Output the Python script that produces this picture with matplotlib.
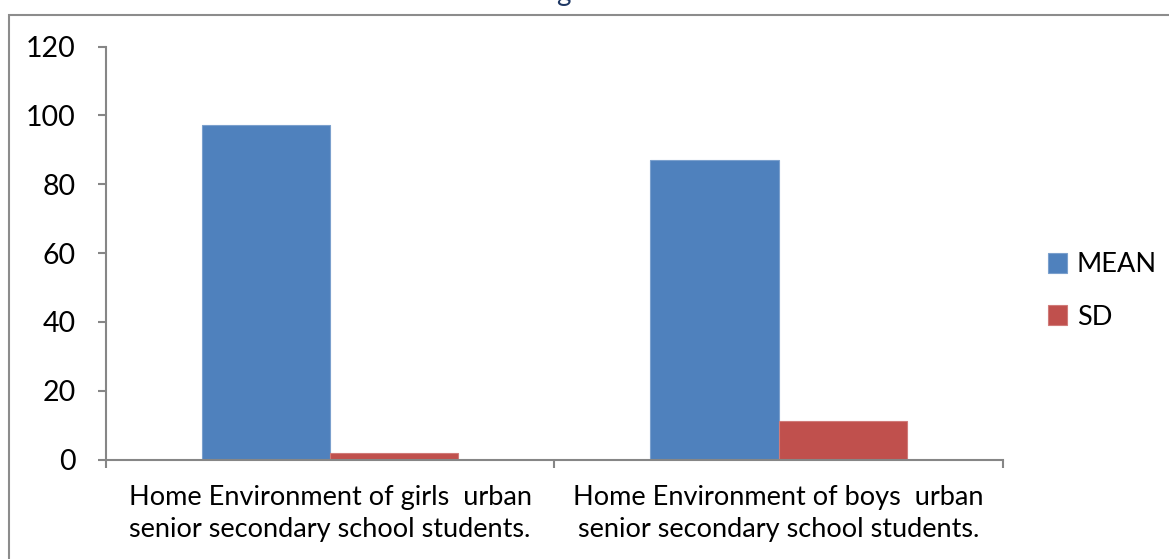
import matplotlib.pyplot as plt
import numpy as np
from matplotlib.patches import Rectangle

categories = [
    "Home Environment of girls  urban\nsenior secondary school students.",
    "Home Environment of boys  urban\nsenior secondary school students.",
]
series_names = ["MEAN", "SD"]
mean_values = [97.2, 86.9]
sd_values = [1.8, 11.3]
y_ticks = [0, 20, 40, 60, 80, 100, 120]

plt.rcParams["font.family"] = ["Lato", "DejaVu Sans"]

fig = plt.figure(figsize=(11.69, 5.59), dpi=100)
ax = fig.add_axes([105.7 / 1169, 1 - 459.5 / 559, (1003 - 105.7) / 1169, (459.5 - 46.5) / 559])

# outer chart border (cut off at right and bottom like the reference)
fig.patches.append(Rectangle((9 / 1169, -0.05), 1.2, 1 - 14.5 / 559 + 0.05,
                             transform=fig.transFigure, fill=False,
                             edgecolor="#8c8c8c", linewidth=1.5))

# bottom of the cropped title
fig.text(563 / 1169, 1 - 0.5 / 559, "g", ha="center", va="baseline",
         fontsize=20, color="#1F3864")

x = np.arange(len(categories))
w = 1 / 3.5
ax.bar(x - w / 2, mean_values, w, color="#4F81BD", edgecolor="#7BA0CD",
       linewidth=0.8, label=series_names[0])
ax.bar(x + w / 2, sd_values, w, color="#C0504D", edgecolor="#D07B79",
       linewidth=0.8, label=series_names[1])

ax.set_xlim(-0.5, len(categories) - 0.5)
ax.set_ylim(0, 120)
ax.set_yticks(y_ticks)

ax.set_xticks([-0.5, 0.5, 1.5])
ax.set_xticklabels([])
ax.set_xticks(x, minor=True)
ax.set_xticklabels(categories, minor=True, fontsize=19.5, linespacing=1.38)
ax.tick_params(axis="x", which="minor", length=0, pad=18)
ax.tick_params(axis="x", which="major", direction="out", length=6,
               width=1.5, color="#868686")
ax.tick_params(axis="y", direction="out", length=6, width=1.5,
               color="#868686", pad=15.5, labelsize=20.5)

for side in ["top", "right"]:
    ax.spines[side].set_visible(False)
for side in ["left", "bottom"]:
    ax.spines[side].set_color("#868686")
    ax.spines[side].set_linewidth(1.5)

fig.legend(loc="center left", bbox_to_anchor=(1037 / 1169, 1 - 291 / 559),
           frameon=False, fontsize=19.5, handlelength=0.72, handleheight=0.72,
           handletextpad=0.35, labelspacing=1.0, borderaxespad=0)

fig.savefig("out.png", dpi=100)
plt.close(fig)
